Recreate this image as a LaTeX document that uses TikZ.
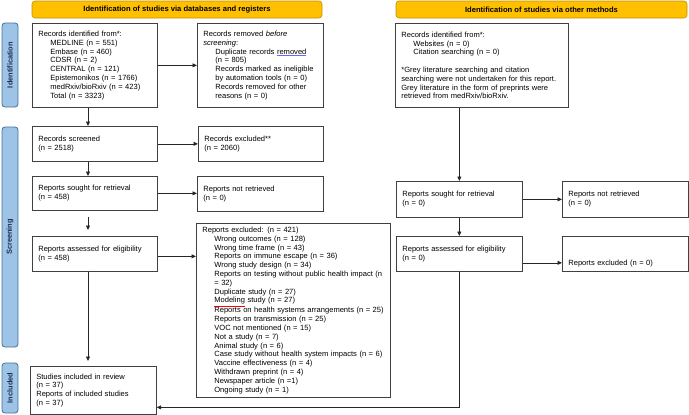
\documentclass[tikz,border=0pt]{standalone}
\usepackage{fontspec}
\setmainfont{Liberation Sans}
\usetikzlibrary{arrows.meta}
\definecolor{hdr}{HTML}{FFC000}
\definecolor{hdrb}{HTML}{C09000}
\definecolor{side}{HTML}{9DC3E6}
\definecolor{sideb}{HTML}{41719C}
\definecolor{sidet}{HTML}{1F2F4F}
\newcommand\ulblue[1]{{\color{blue!60}\underline{\color{black}#1}}}
\newcommand\ulred[1]{{\color{red}\underline{\color{black}#1}}}
\newcommand\ind{\hspace*{12pt}}
\newcommand\nowrap[1]{\leavevmode\rlap{#1}}
\begin{document}
\begin{tikzpicture}[x=1pt,y=-1pt,
  box/.style={draw=black!75, line width=0.7pt, anchor=north west, inner xsep=6pt, inner ysep=0pt,
    align=left, font=\fontsize{7.55}{8.8}\selectfont},
  hdrs/.style={draw=hdrb, fill=hdr, rounded corners=3pt, line width=0.6pt, inner sep=0pt,
    font=\bfseries\fontsize{7.6}{8.8}\selectfont},
  sides/.style={draw=sideb, fill=side, rounded corners=3pt, line width=0.8pt, inner sep=0pt,
    rotate=90, minimum height=16pt, text=sidet, font=\bfseries\fontsize{7.4}{8}\selectfont},
  arr/.style={draw=black!85, line width=0.7pt, -{Triangle[length=4.5pt,width=4pt]}}
]
\useasboundingbox (0,0) rectangle (689,415);

% headers
\node[hdrs, minimum width=290pt, minimum height=17pt] (h1) at (177,9.5) {Identification of studies via databases and registers};
\node[hdrs, minimum width=291pt, minimum height=17pt] (h2) at (541.5,9.5) {Identification of studies via other methods};

% side bars
\node[sides, minimum width=84pt] (sI) at (10,65) {Identification};
\node[sides, minimum width=220pt] (sS) at (10,237) {Screening};
\node[sides, minimum width=50pt] (sN) at (10,388) {Included};

% left column
\node[box, minimum width=125pt, minimum height=84pt, text width=113pt] (id1) at (32,23)
 {Records identified from*:\\
  \ind MEDLINE (n = 551)\\
  \ind Embase (n = 460)\\
  \ind CDSR (n = 2)\\
  \ind CENTRAL (n = 121)\\
  \ind Epistemonikos (n = 1766)\\
  \ind medRxiv/bioRxiv (n = 423)\\
  \ind Total (n = 3323)};
\node[box, minimum width=126pt, minimum height=84pt, text width=114pt] (rem1) at (197,23)
 {Records removed \textit{before}\\
  \textit{screening}:\\
  \ind Duplicate records \ulblue{removed}\\
  \ind (n = 805)\\
  \ind \nowrap{Records marked as ineligible}\\
  \ind by automation tools (n = 0)\\
  \ind Records removed for other\\
  \ind reasons (n = 0)};
\node[box, minimum width=125pt, minimum height=35pt, text width=113pt] (screened) at (32,126)
 {Records screened\\(n = 2518)};
\node[box, minimum width=125pt, minimum height=35pt, text width=113pt] (excl1) at (198,126)
 {Records excluded**\\(n = 2060)};
\node[box, minimum width=125pt, minimum height=34pt, text width=113pt] (sought1) at (32,176)
 {Reports sought for retrieval\\(n = 458)};
\node[box, minimum width=126pt, minimum height=35pt, text width=114pt] (notret1) at (197,176)
 {Reports not retrieved\\(n = 0)};
\node[box, minimum width=125pt, minimum height=35pt, text width=113pt] (assessed1) at (32,236)
 {Reports assessed for eligibility\\(n = 458)};
\node[box, minimum width=194pt, minimum height=174pt, text width=182pt] (excl2) at (196,223)
 {Reports excluded: (n = 421)\\
  \ind Wrong outcomes (n = 128)\\
  \ind Wrong time frame (n = 43)\\
  \ind Reports on immune escape (n = 36)\\
  \ind Wrong study design (n = 34)\\
  \ind \nowrap{Reports on testing without public health impact (n}\\
  \ind = 32)\\
  \ind Duplicate study (n = 27)\\
  \ind \ulred{Modeling} study (n = 27)\\
  \ind \nowrap{Reports on health systems arrangements (n = 25)}\\
  \ind Reports on transmission (n = 25)\\
  \ind VOC not mentioned (n = 15)\\
  \ind Not a study (n = 7)\\
  \ind Animal study (n = 6)\\
  \ind \nowrap{Case study without health system impacts (n = 6)}\\
  \ind Vaccine effectiveness (n = 4)\\
  \ind Withdrawn preprint (n = 4)\\
  \ind Newspaper article (n =1)\\
  \ind Ongoing study (n = 1)};
\node[box, minimum width=126pt, minimum height=48pt, text width=114pt] (included) at (30,366)
 {Studies included in review\\(n = 37)\\Reports of included studies\\(n = 37)};

% right column
\node[box, minimum width=173pt, minimum height=84pt, text width=161pt] (other1) at (395,23)
 {Records identified from*:\\
  \ind Websites (n = 0)\\
  \ind Citation searching (n = 0)\\[8.8pt]
  *Grey literature searching and citation\\
  \nowrap{searching were not undertaken for this report.}\\
  \nowrap{Grey literature in the form of preprints were}\\
  retrieved from medRxiv/bioRxiv.};
\node[box, minimum width=126pt, minimum height=36pt, text width=114pt] (sought2) at (396,181)
 {Reports sought for retrieval\\(n = 0)};
\node[box, minimum width=126pt, minimum height=36pt, text width=114pt] (notret2) at (562,181)
 {Reports not retrieved\\(n = 0)};
\node[box, minimum width=126pt, minimum height=35pt, text width=114pt] (assessed2) at (396,236)
 {Reports assessed for eligibility\\(n = 0)};
\node[box, minimum width=126pt, minimum height=35pt, text width=114pt, text height=29.5pt, text depth=5.5pt] (excl3) at (562,236)
 {Reports excluded (n = 0)};

% connectors
\coordinate (vx) at (88,0);
\draw[arr] (id1) -- (rem1);
\draw[arr] (id1.south -| vx) -- (screened.north -| vx);
\draw[arr] (screened) -- (excl1);
\draw[arr] (screened.south -| vx) -- (sought1.north -| vx);
\draw[arr] (sought1) -- (sought1 -| notret1.west);
\draw[arr, shorten <=6pt, shorten >=6pt] (sought1.south -| vx) -- (assessed1.north -| vx);
\draw[arr] ([yshift=-2.5pt]assessed1.east) -- ([yshift=-2.5pt]assessed1.east -| excl2.west);
\draw[arr, shorten >=5pt] (assessed1.south -| vx) -- (included.north -| vx);
\draw[arr] (other1.south -| sought2.north) -- (sought2.north);
\draw[arr] (sought2) -- (notret2);
\draw[arr] (sought2) -- (assessed2);
\draw[arr] ([yshift=-9pt]assessed2.east) -- ([yshift=-9pt]assessed2.east -| excl3.west);
\draw[arr] (assessed2.south) |- ([yshift=-17pt]included.east);
\end{tikzpicture}
\end{document}
